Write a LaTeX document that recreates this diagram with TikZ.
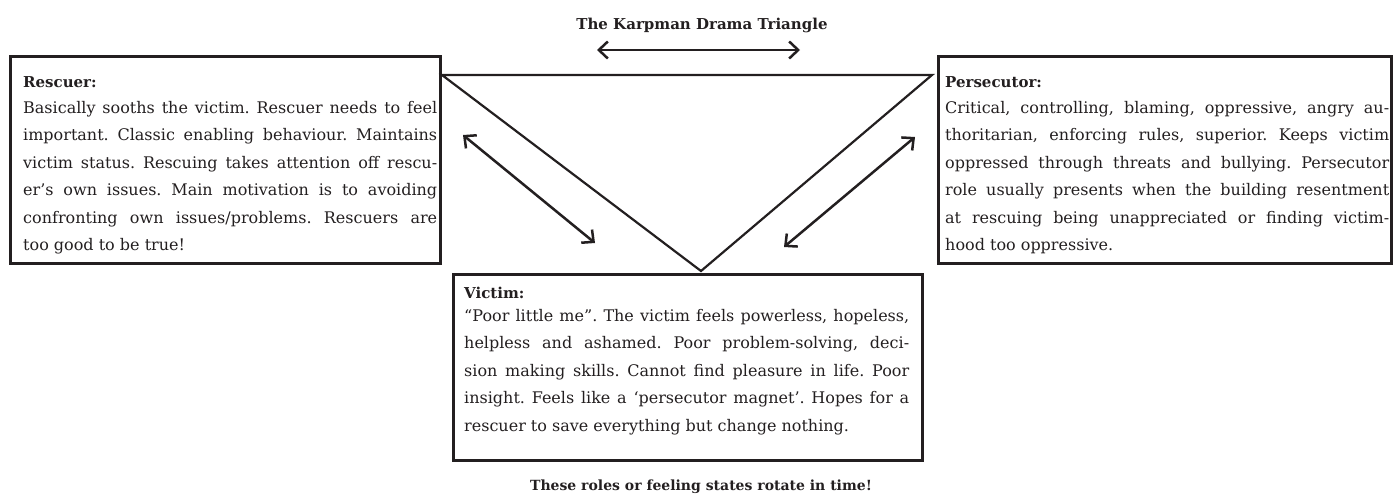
\documentclass[tikz,border=0pt]{standalone}
\usepackage{fontspec}
\setmainfont{DejaVu Serif}
\usepackage{xcolor}
\usetikzlibrary{arrows.meta, positioning}
\definecolor{InkGray}{RGB}{35, 31, 32}
\newcommand{\rolepar}[2]{\parbox[t]{#1}{\frenchspacing\hyphenpenalty=10000\relax #2}}

\begin{document}
\begin{tikzpicture}[
        x=1pt, y=-1pt,
        >={Straight Barb[length=9pt, width=17pt, line width=2.5pt]},
        rolebox/.style={draw=InkGray, line width=2.8pt, inner sep=0pt, anchor=north west},
        roletitle/.style={anchor=base west, inner sep=0pt, text=InkGray, font=\fontsize{15}{27.5}\selectfont\bfseries},
        roletext/.style={anchor=base west, inner sep=0pt, text=InkGray, font=\fontsize{16}{27.5}\selectfont},
        caption/.style={inner sep=0pt, text=InkGray, font=\fontsize{15}{20}\selectfont\bfseries},
        edge/.style={draw=InkGray, line width=2.2pt},
        swap/.style={edge, line width=2.5pt, <->}
    ]
    \useasboundingbox (0,0) rectangle (1395,493);

    % Titel und Fusszeile
    \node[caption, anchor=base] (title) at (702,29) {The Karpman Drama Triangle};
    \node[caption, anchor=base, font=\fontsize{14}{20}\selectfont\bfseries] (footer) at (701,490) {These roles or feeling states rotate in time!};

    % Rahmen der drei Rollen
    \node[rolebox, minimum width=430pt, minimum height=207pt] (rescuer) at (9,55) {};
    \node[rolebox, minimum width=453pt, minimum height=207pt] (persecutor) at (937,55) {};
    \node[rolebox, minimum width=469pt, minimum height=186pt] (victim) at (452,273) {};

    % Texte der Rollen
    \node[roletitle] (rescuer title) at (23,87) {Rescuer:};
    \node[roletext] (rescuer text) at (23,113) {\rolepar{414pt}{Basically sooths the victim. Rescuer needs to feel\linebreak important. Classic enabling behaviour. Maintains\linebreak victim status. Rescuing takes attention off rescu-\linebreak er’s own issues. Main motivation is to avoiding\linebreak confronting own issues/problems. Rescuers are\linebreak too good to be true!}};

    \node[roletitle] (persecutor title) at (945,87) {Persecutor:};
    \node[roletext] (persecutor text) at (945,113) {\rolepar{444pt}{Critical, controlling, blaming, oppressive, angry au-\linebreak thoritarian, enforcing rules, superior. Keeps victim\linebreak oppressed through threats and bullying. Persecutor\linebreak role usually presents when the building resentment\linebreak at rescuing being unappreciated or finding victim-\linebreak hood too oppressive.}};

    \node[roletitle] (victim title) at (464,298) {Victim:};
    \node[roletext] (victim text) at (464,321) {\rolepar{445pt}{“Poor little me”. The victim feels powerless, hopeless,\linebreak helpless and ashamed. Poor problem-solving, deci-\linebreak sion making skills. Cannot find pleasure in life. Poor\linebreak insight. Feels like a ‘persecutor magnet’. Hopes for a\linebreak rescuer to save everything but change nothing.}};

    % Das Dreieck
    \coordinate (corner R) at (442,75);
    \coordinate (corner P) at (932,75);
    \coordinate (corner V) at (701,271);
    \draw[edge, line join=miter] (corner R) -- (corner P) -- (corner V) -- cycle;

    % Wechselpfeile
    \coordinate (top a) at (597,50);
    \coordinate (top b) at (800,50);
    \coordinate (left a) at (463,135);
    \coordinate (left b) at (595,243);
    \coordinate (right a) at (784,247);
    \coordinate (right b) at (915,137);
    \draw[swap] (top a) -- (top b);
    \draw[swap] (left a) -- (left b);
    \draw[swap] (right a) -- (right b);

\end{tikzpicture}
\end{document}
